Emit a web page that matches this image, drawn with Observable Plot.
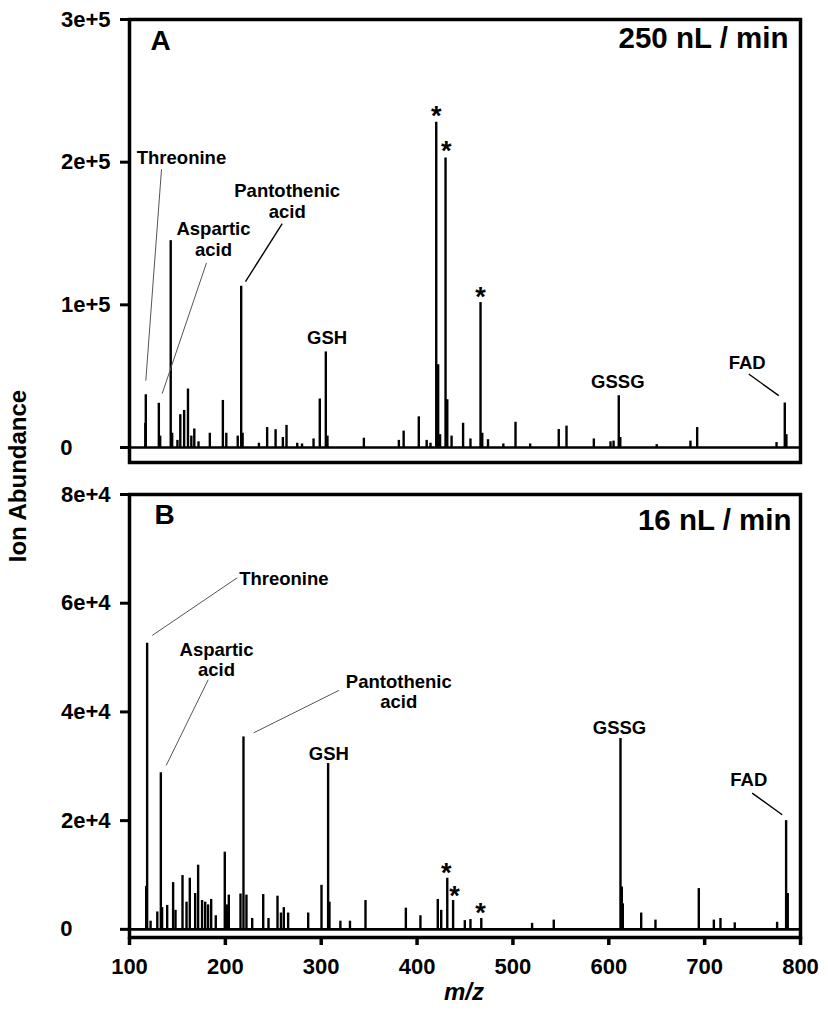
<!DOCTYPE html>
<html>
<head>
<meta charset="utf-8">
<script src="https://cdn.jsdelivr.net/npm/d3@7"></script>
<script src="https://cdn.jsdelivr.net/npm/@observablehq/plot@0.6"></script>
<style>
  body { margin: 0; background: #fff; }
  #wrap { position: relative; width: 828px; height: 1015px; font-family: "Liberation Sans", Arial, sans-serif; font-weight: bold; color: #000; }
  #panelA { position: absolute; left: 0; top: 0; }
  #panelB { position: absolute; left: 0; top: 475px; }
  #ylab { position: absolute; left: 18px; top: 476px; transform: translate(-50%, -50%) rotate(-90deg); font-size: 24px; white-space: nowrap; }
  #xlab { position: absolute; left: 464px; top: 992px; transform: translate(-50%, -50%); font-size: 24px; font-style: italic; white-space: nowrap; }
</style>
</head>
<body>
<div id="wrap">
  <div id="panelA"></div>
  <div id="panelB"></div>
  <div id="ylab">Ion Abundance</div>
  <div id="xlab">m/z</div>
</div>
<script>
// ---------- Data ----------
// Panel A (250 nL/min): peak m/z and ion abundance
const mzA = [116.5, 117, 130.6, 132, 143, 144.5, 150, 153, 157, 161, 164.5, 167.6, 172, 183.8, 197.4, 201, 212.9, 216.5, 218, 235, 243.6, 252.4, 260, 263.8, 275, 280, 292, 298.5, 304.8, 306.5, 344.5, 381, 386, 401.8, 410, 414, 420, 422, 424, 429.7, 431.5, 436, 448, 455.7, 466.2, 468, 474, 490, 502.7, 518, 547.8, 555.9, 584.4, 601.8, 605, 610.4, 612, 650, 685.2, 692.2, 775, 783.6, 785.3];
const abA = [17000, 37000, 31000, 8000, 145000, 10000, 5000, 23000, 26000, 41000, 8000, 13000, 4000, 10000, 33000, 10000, 8000, 113000, 10000, 3000, 14000, 12500, 7000, 15500, 3000, 2500, 6000, 34000, 67000, 8000, 6500, 5000, 11500, 21500, 5000, 3000, 228000, 58000, 9000, 203000, 33500, 8000, 17000, 6000, 101600, 10000, 5500, 2500, 17700, 2500, 12600, 15000, 6000, 4000, 4500, 36300, 7000, 2000, 4500, 14000, 3500, 31200, 9000];

// Panel B (16 nL/min)
const mzB = [117.4, 118.4, 122, 129, 132.7, 134, 139.3, 145.5, 148, 155.3, 159.5, 162.9, 168.5, 171.6, 175.7, 179, 182, 185.2, 190, 199.4, 201.5, 203.6, 215.8, 218.9, 222, 228, 239.5, 245, 254.4, 258, 261, 265.5, 286.4, 300.3, 307.2, 308.6, 320, 330, 346.2, 388.3, 403.5, 421.6, 425.2, 431.5, 437.6, 449.8, 455.7, 467, 520, 542.6, 612.2, 613.6, 614.6, 633.8, 648.7, 693.9, 709.6, 716.5, 731.4, 775.6, 785, 786.7];
const abB = [7900, 52650, 1500, 3200, 28800, 4000, 4400, 8600, 3500, 9900, 5000, 9400, 6600, 11800, 5300, 5000, 4500, 5500, 2500, 14200, 4500, 6300, 6500, 35400, 6300, 2000, 6400, 2000, 6100, 3000, 4000, 3000, 3000, 8100, 30500, 5000, 1500, 1500, 5300, 3900, 2500, 5500, 3500, 9400, 5300, 1600, 1800, 2000, 1100, 1700, 35100, 7800, 4700, 3000, 1700, 7500, 1700, 2000, 1200, 1300, 20000, 6600];

// Compound labels (position in m/z, abundance)
const namesA = ["Threonine", "Aspartic\nacid", "Pantothenic\nacid", "GSH", "GSSG", "FAD"];
const nameMzA = [154.2, 187.6, 264.5, 306.2, 609.4, 744.4];
const nameAbA = [203500, 146150, 173100, 76900, 46150, 59650];

const namesB = ["Threonine", "Aspartic\nacid", "Pantothenic\nacid", "GSH", "GSSG", "FAD"];
const nameMzB = [261, 190.8, 380.9, 307.9, 611.2, 746];
const nameAbB = [64500, 49650, 43770, 32420, 37200, 27530];

// Leader lines: [mz1, ab1, mz2, ab2]
const thinLeadersA = [[133.4, 195100, 117, 46850], [180.3, 129400, 134.1, 37760]];
const boldLeadersA = [[259.3, 156860, 221, 116300], [746, 51540, 777.3, 36360]];
const thinLeadersB = [[212.4, 64680, 123.7, 54070], [182.1, 45920, 138.3, 30160], [318.4, 43950, 229.7, 36170]];
const boldLeadersB = [[749.6, 25070, 780.9, 21090]];

// Asterisk-marked peaks
const starMzA = [420, 430.4, 466.2];
const starAbA = [237760, 213300, 111190];
const starMzB = [430.4, 439, 466.2];
const starAbB = [11770, 7540, 4410];

// Axes
const xTicks = [100, 200, 300, 400, 500, 600, 700, 800];
const yTicksA = [0, 100000, 200000, 300000];
const yTickLabelsA = ["0", "1e+5", "2e+5", "3e+5"];
const yTicksB = [0, 20000, 40000, 60000, 80000];
const yTickLabelsB = ["0", "2e+4", "4e+4", "6e+4", "8e+4"];
const panelLetters = ["A", "B"];
const flowRates = ["250 nL / min", "16 nL / min"];

// ---------- Build ----------
const FONT = '"Liberation Sans", Arial, sans-serif';
const zip2 = (a, b) => a.map((v, i) => ({mz: v, ab: b[i]}));
const toLinks = arr => arr.map(([a, b, c, d]) => ({x1: a, y1: b, x2: c, y2: d}));

function panel(o) {
  const peaks = zip2(o.mz, o.ab);
  const labels = o.names.map((t, i) => ({t, mz: o.nameMz[i], ab: o.nameAb[i]}));
  const stars = zip2(o.starMz, o.starAb);
  const tickLab = d => { const i = o.yTicks.indexOf(d); return d === 0 ? "" : o.yTickLabels[i]; };
  return Plot.plot({
    width: 828,
    height: o.height,
    marginLeft: 129,
    marginRight: 28,
    marginTop: 19,
    marginBottom: o.marginBottom,
    style: {fontFamily: FONT, fontWeight: "bold", background: "white", color: "black", overflow: "visible"},
    x: {domain: [100, 800], axis: null},
    y: {domain: o.yDomain, axis: null},
    marks: [
      Plot.ruleY([0], {strokeWidth: 2.6}),
      Plot.ruleX(peaks, {x: "mz", y1: 0, y2: "ab", strokeWidth: 2.4}),
      Plot.link(toLinks(o.thin), {x1: "x1", y1: "y1", x2: "x2", y2: "y2", stroke: "#555", strokeWidth: 1}),
      Plot.link(toLinks(o.bold), {x1: "x1", y1: "y1", x2: "x2", y2: "y2", stroke: "#000", strokeWidth: 1.4}),
      Plot.text(labels, {x: "mz", y: "ab", text: "t", fontSize: 18.5, lineHeight: 1.12, lineAnchor: "middle", fill: "black"}),
      Plot.text(stars, {x: "mz", y: "ab", text: () => "*", fontSize: 27, dy: 8, fill: "black"}),
      Plot.text([o.letter], {frameAnchor: "top-left", text: d => d, dx: o.letterDx, dy: o.letterDy, fontSize: 28, textAnchor: "start", lineAnchor: "top"}),
      Plot.text([o.rate], {frameAnchor: "top-right", text: d => d, dx: o.rateDx, dy: o.rateDy, fontSize: 29.5, textAnchor: "end", lineAnchor: "top"}),
      Plot.axisY(o.yTicks, {tickSize: 9, tickPadding: 10, strokeWidth: 3, fontSize: 22, tickFormat: tickLab, label: null}),
      Plot.text([0], {y: d => d, frameAnchor: "left", text: () => o.yTickLabels[0], dx: -57, textAnchor: "end", fontSize: 22}),
      o.showX ? Plot.axisX(xTicks, {tickSize: 8, tickPadding: 13, strokeWidth: 3.5, fontSize: 22, label: null}) : null,
      Plot.frame({strokeWidth: 3.5})
    ]
  });
}

document.getElementById("panelA").append(panel({
  mz: mzA, ab: abA, names: namesA, nameMz: nameMzA, nameAb: nameAbA,
  thin: thinLeadersA, bold: boldLeadersA, starMz: starMzA, starAb: starAbA,
  yTicks: yTicksA, yTickLabels: yTickLabelsA, yDomain: [-10500, 300000],
  letter: panelLetters[0], rate: flowRates[0],
  letterDx: 21, letterDy: 11, rateDx: -12, rateDy: 8,
  height: 475, marginBottom: 13, showX: false
}));

document.getElementById("panelB").append(panel({
  mz: mzB, ab: abB, names: namesB, nameMz: nameMzB, nameAb: nameAbB,
  thin: thinLeadersB, bold: boldLeadersB, starMz: starMzB, starAb: starAbB,
  yTicks: yTicksB, yTickLabels: yTickLabelsB, yDomain: [-1500, 80000],
  letter: panelLetters[1], rate: flowRates[1],
  letterDx: 25, letterDy: 10, rateDx: -9, rateDy: 15,
  height: 540, marginBottom: 78, showX: true
}));
</script>
</body>
</html>
